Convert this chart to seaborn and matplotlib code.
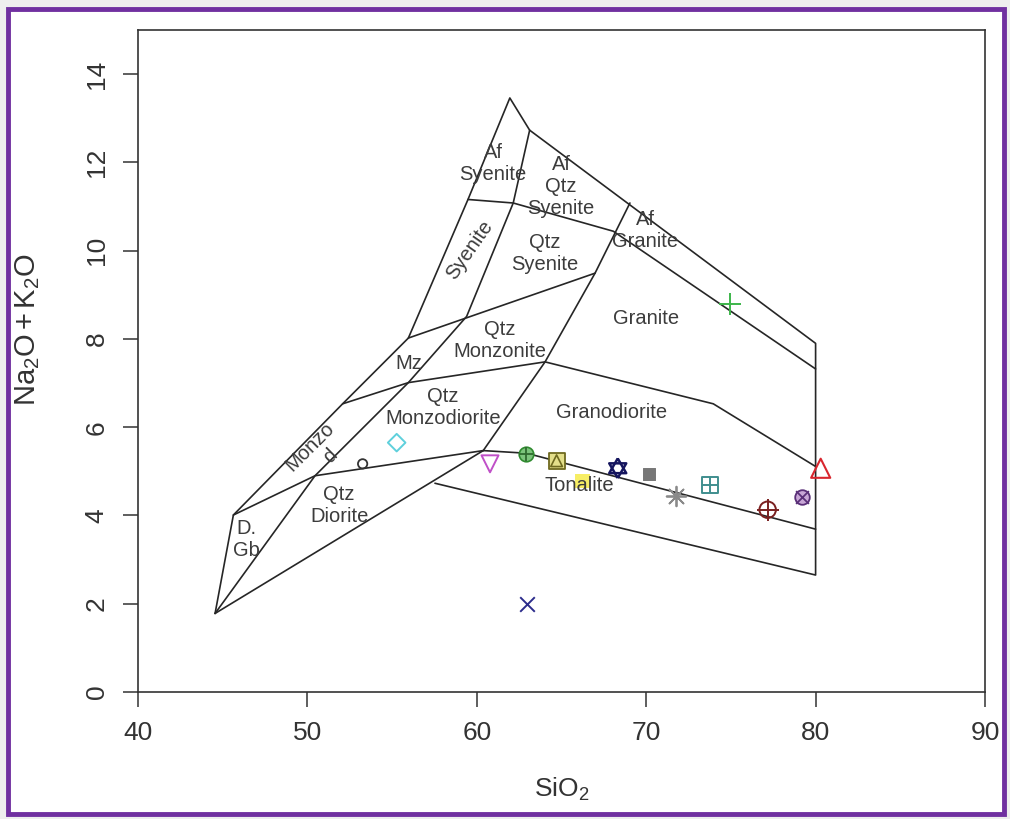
import matplotlib
matplotlib.use("Agg")
import matplotlib.pyplot as plt
import seaborn as sns
from matplotlib.patches import Rectangle

# ---- classification field boundaries (SiO2 wt%, Na2O+K2O wt%) ----
outer_sio2 = [44.55, 45.63, 52.08, 55.96, 59.48, 61.95, 63.12, 80.0, 80.0, 57.53]
outer_alk = [1.78, 4.01, 6.53, 8.02, 11.16, 13.46, 12.73, 7.90, 2.65, 4.73]

diorite_base_sio2 = [44.55, 60.38]
diorite_base_alk = [1.78, 5.47]

tonalite_top_sio2 = [45.63, 50.45, 60.38, 62.94, 80.0]
tonalite_top_alk = [4.01, 4.90, 5.47, 5.41, 3.69]

syenite_axis_sio2 = [44.55, 50.45, 55.96, 59.40, 62.15, 63.12]
syenite_axis_alk = [1.78, 4.90, 7.01, 8.51, 11.08, 12.73]

monzonite_base_sio2 = [52.08, 55.96, 64.03, 73.96, 80.0]
monzonite_base_alk = [6.53, 7.01, 7.48, 6.53, 5.11]

qtz_syenite_base_sio2 = [55.96, 66.98]
qtz_syenite_base_alk = [8.02, 9.49]

granite_edge_sio2 = [60.38, 64.03, 66.98, 69.04]
granite_edge_alk = [5.47, 7.48, 9.49, 11.08]

alkali_feldspar_sio2 = [59.48, 62.15, 68.06, 80.0]
alkali_feldspar_alk = [11.16, 11.08, 10.44, 7.32]

boundaries = [
    (outer_sio2, outer_alk),
    (diorite_base_sio2, diorite_base_alk),
    (tonalite_top_sio2, tonalite_top_alk),
    (syenite_axis_sio2, syenite_axis_alk),
    (monzonite_base_sio2, monzonite_base_alk),
    (qtz_syenite_base_sio2, qtz_syenite_base_alk),
    (granite_edge_sio2, granite_edge_alk),
    (alkali_feldspar_sio2, alkali_feldspar_alk),
]

# ---- field names and their anchor positions ----
field_names = ["Af\nSyenite", "Af\nQtz\nSyenite", "Af\nGranite", "Syenite",
               "Qtz\nSyenite", "Granite", "Qtz\nMonzonite", "Mz",
               "Qtz\nMonzodiorite", "Granodiorite", "Monzo", "d",
               "Qtz\nDiorite", "D.\nGb", "Tonalite"]
field_sio2 = [60.96, 64.97, 69.93, 59.6, 64.03, 69.99, 61.37, 55.96,
              58.0, 67.96, 50.15, 51.33, 51.87, 46.43, 66.05]
field_alk = [11.97, 11.45, 10.45, 10.02, 9.93, 8.46, 7.96, 7.45,
             6.44, 6.33, 5.56, 5.34, 4.22, 3.45, 4.67]
field_angle = [0, 0, 0, 55, 0, 0, 0, 0, 0, 0, 45, 45, 0, 0, 0]

# ---- samples ----
sample_sio2 = [55.27, 53.26, 60.78, 62.90, 64.71, 66.25, 68.32, 70.18,
               71.74, 73.77, 77.17, 79.18, 80.30, 74.95, 62.94]
sample_alk = [5.65, 5.17, 5.17, 5.39, 5.24, 4.78, 5.07, 4.94,
              4.43, 4.69, 4.13, 4.41, 5.07, 8.80, 2.00]

x_ticks = [40, 50, 60, 70, 80, 90]
y_ticks = [0, 2, 4, 6, 8, 10, 12, 14]

sns.set_theme(style="white")
plt.rcParams["font.family"] = ["Liberation Sans", "DejaVu Sans"]
plt.rcParams["mathtext.fontset"] = "custom"
plt.rcParams["mathtext.rm"] = "Liberation Sans"
plt.rcParams["mathtext.it"] = "Liberation Sans"

fig = plt.figure(figsize=(10.10, 8.19), dpi=100, facecolor="#eeeeee")
fig.patches.append(Rectangle((8 / 1010, 5 / 819), 996 / 1010, 805 / 819,
                             transform=fig.transFigure, facecolor="white",
                             edgecolor="none", zorder=-10))
fig.patches.append(Rectangle((8 / 1010, 5 / 819), 996 / 1010, 805 / 819,
                             transform=fig.transFigure, facecolor="none",
                             edgecolor="#7030a0", linewidth=3.5, zorder=10))
ax = fig.add_axes([138 / 1010, 1 - 692 / 819, 847 / 1010, 662 / 819])
ax.set_facecolor("white")

line_col = "#262626"
for xs, ys in boundaries:
    sns.lineplot(x=xs, y=ys, sort=False, estimator=None, ax=ax,
                 color=line_col, linewidth=1.2, legend=False)

text_col = "#3c3c3c"
for name, x, y, ang in zip(field_names, field_sio2, field_alk, field_angle):
    ax.text(x, y, name, ha="center", va="center", rotation=ang,
            fontsize=14.5, color=text_col, linespacing=1.2,
            rotation_mode="anchor", zorder=7)


def pt(i, **kw):
    sns.scatterplot(x=[sample_sio2[i]], y=[sample_alk[i]], ax=ax,
                    legend=False, zorder=5, **kw)


tri_up = [(0, 1), (-0.866, -0.5), (0.866, -0.5), (0, 1)]
tri_dn = [(0, -1), (-0.866, 0.5), (0.866, 0.5), (0, -1)]

# cyan diamond
pt(0, marker="D", s=80, facecolor="none", edgecolor="#5fd0dc", linewidth=1.4)
# small open circle
pt(1, marker="o", s=45, facecolor="none", edgecolor="#333333", linewidth=1.3)
# magenta down triangle
pt(2, marker="v", s=150, facecolor="none", edgecolor="#c050c8", linewidth=1.4)
# green circle with plus
pt(3, marker="o", s=110, facecolor="#7cc47c", edgecolor="#2f8a2f", linewidth=1.2)
pt(3, marker="+", s=110, color="#2f6a2f", linewidth=1.3)
# olive square with triangle
pt(4, marker="s", s=130, facecolor="#e4df8a", edgecolor="#6f6a20", linewidth=1.3)
pt(4, marker="^", s=70, facecolor="none", edgecolor="#6f6a20", linewidth=1.2)
# yellow square
pt(5, marker="s", s=110, facecolor="#f6ec4a", edgecolor="none", alpha=0.85)
# navy star of David
pt(6, marker=tri_up, s=200, facecolor="none", edgecolor="#15155e", linewidth=1.8)
pt(6, marker=tri_dn, s=200, facecolor="none", edgecolor="#15155e", linewidth=1.8)
# grey square
pt(7, marker="s", s=75, facecolor="#777777", edgecolor="#777777")
# grey asterisk
pt(8, marker=(8, 2, 0), s=200, color="#8a8a8a", linewidth=1.3)
# teal square with plus
pt(9, marker="s", s=140, facecolor="none", edgecolor="#3f8e8e", linewidth=1.4)
pt(9, marker="+", s=140, color="#3f8e8e", linewidth=1.4)
# dark red circle with plus
pt(10, marker="o", s=140, facecolor="none", edgecolor="#7a2020", linewidth=1.4)
pt(10, marker="+", s=240, color="#7a2020", linewidth=1.4)
# purple circle with cross
pt(11, marker="o", s=110, facecolor="#c8a6d6", edgecolor="#5a2f78", linewidth=1.3)
pt(11, marker="x", s=85, color="#5a2f78", linewidth=1.3)
# red up triangle
pt(12, marker="^", s=190, facecolor="none", edgecolor="#d8262e", linewidth=1.5)
# green plus
pt(13, marker="+", s=230, color="#3cb54a", linewidth=1.4)
# blue cross
pt(14, marker="x", s=110, color="#2c2c8c", linewidth=1.4)

ax.set_xlim(40, 90)
ax.set_ylim(0, 15)
ax.set_xticks(x_ticks)
ax.set_yticks(y_ticks)
ax.set_xticklabels([str(v) for v in x_ticks])
ax.set_yticklabels([str(v) for v in y_ticks], rotation=90, va="center")
ax.tick_params(axis="both", which="both", direction="out", length=11,
               width=1.1, color="#333333", labelsize=19, labelcolor="#333333",
               bottom=True, left=True)
ax.tick_params(axis="x", pad=10)
ax.tick_params(axis="y", pad=10)
for sp in ax.spines.values():
    sp.set_color("#333333")
    sp.set_linewidth(1.2)
    sp.set_visible(True)

ax.set_xlabel(r"SiO$_2$", fontsize=19, color="#333333", labelpad=22)
fig.text(28 / 1010, 1 - 330 / 819, r"Na$_2$O$\,$+$\,$K$_2$O", rotation=90,
         ha="center", va="center", fontsize=21, color="#333333")

fig.savefig("out.png", dpi=100, facecolor=fig.get_facecolor())
